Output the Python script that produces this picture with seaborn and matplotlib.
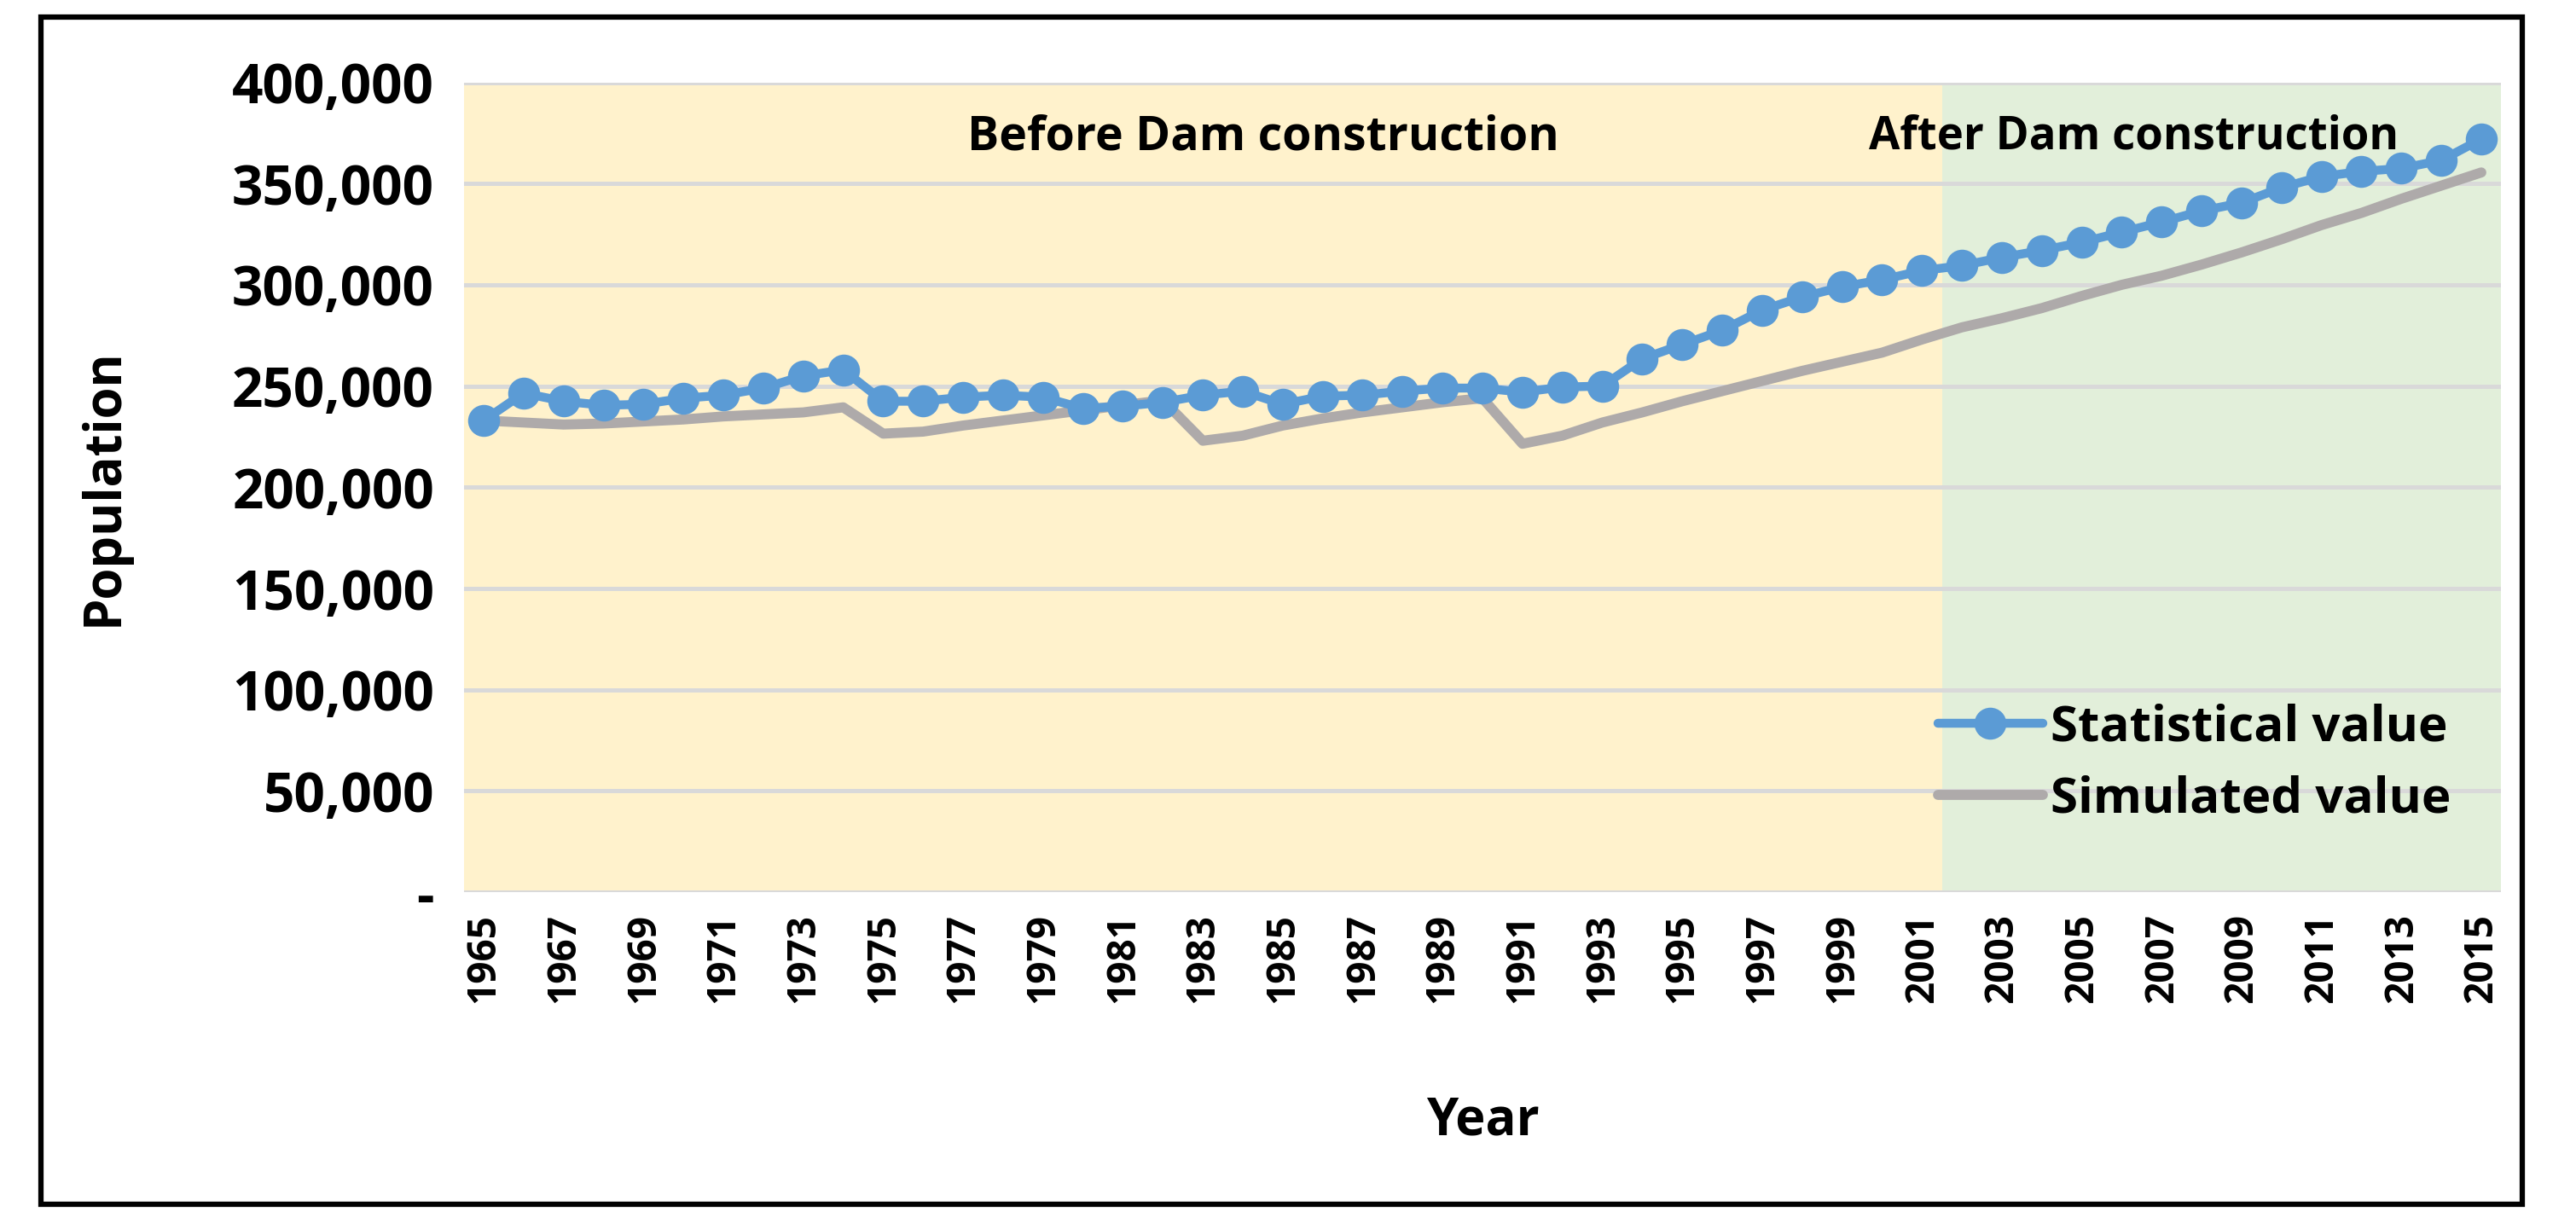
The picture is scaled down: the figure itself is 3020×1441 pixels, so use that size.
import matplotlib
matplotlib.use("Agg")
import matplotlib.pyplot as plt
from matplotlib.patches import Rectangle
from matplotlib.lines import Line2D
from matplotlib.ticker import FuncFormatter
import seaborn as sns
import pandas as pd

# data
years = list(range(1965, 2016))
statistical = [233000, 246500, 242500, 240500, 241000, 244000, 245500, 249000, 255000, 258000,
               242500, 242500, 244500, 245500, 244500, 239000, 240000, 242000, 245500, 247500,
               241000, 245000, 245500, 247500, 249000, 249000, 247000, 249500, 250000, 263500,
               270500, 277500, 287500, 294000, 299000, 302500, 307000, 309500, 313500, 317000,
               321000, 326000, 331000, 336500, 340500, 348000, 353500, 356000, 357500, 361500,
               372000]
simulated = [233000, 232000, 231000, 231500, 232500, 233500, 235000, 236000, 237000, 239500,
             226500, 227500, 230500, 233000, 235500, 238000, 240500, 243000, 223000, 225500,
             230500, 234000, 237000, 239500, 242000, 244000, 221500, 225500, 232000, 237000,
             242500, 247500, 252500, 257500, 262000, 266500, 273000, 279000, 283500, 288500,
             294500, 300000, 304500, 310000, 316000, 322500, 329500, 335500, 342500, 349000,
             355500]
y_ticks = [0, 50000, 100000, 150000, 200000, 250000, 300000, 350000, 400000]
x_ticks = list(range(1965, 2016, 2))
dam_year = 2001.5

df = pd.DataFrame({"Year": years, "Statistical value": statistical, "Simulated value": simulated})

sns.set_style("white")
plt.rcParams['font.family'] = ['Open Sans', 'DejaVu Sans']
plt.rcParams['font.weight'] = 'bold'
plt.rcParams['text.color'] = 'black'
plt.rcParams['axes.labelcolor'] = 'black'
plt.rcParams['xtick.color'] = 'black'
plt.rcParams['ytick.color'] = 'black'

blue = "#5B9BD5"
gray = "#AEAAAA"

fig = plt.figure(figsize=(30.2, 14.41), dpi=100)
ax = fig.add_axes([0.180, 0.274, 0.791, 0.659])

# fondos antes / despues de la presa
ax.axvspan(1964.5, dam_year, color="#FFF2CC", zorder=0, lw=0)
ax.axvspan(dam_year, 2015.5, color="#E2EFDA", zorder=0, lw=0)

for v in y_ticks:
    ax.axhline(v, color="#D9D9D9", lw=3.6, zorder=1)

sns.lineplot(data=df, x="Year", y="Simulated value", color=gray, lw=8.5, ax=ax, zorder=3)
sns.lineplot(data=df, x="Year", y="Statistical value", color=blue, lw=7.5, marker="o",
             markersize=27, markeredgewidth=0, ax=ax, zorder=4)

ax.set_xlim(1964.5, 2015.5)
ax.set_ylim(0, 400000)
ax.set_yticks(y_ticks)
ax.yaxis.set_major_formatter(FuncFormatter(lambda v, p: "-" if v == 0 else f"{int(v):,}"))
ax.set_xticks(x_ticks)
ax.set_xticklabels([str(y) for y in x_ticks], rotation=90)
ax.tick_params(axis="y", labelsize=46, length=0, pad=25)
ax.tick_params(axis="x", labelsize=33, length=0, pad=18)
for s in ax.spines.values():
    s.set_visible(False)

ax.set_xlabel("Year", fontsize=43, fontweight="bold", labelpad=78)
ax.set_ylabel("Population", fontsize=43, fontweight="bold", labelpad=86)

ax.text(1984.5, 373000, "Before Dam construction", ha="center", va="center", fontsize=40, fontweight="bold")
ax.text(2006.3, 373000, "After Dam construction", ha="center", va="center", fontsize=38, fontweight="bold")

handles = [Line2D([], [], color=blue, lw=7.5, marker="o", markersize=27, markeredgewidth=0),
           Line2D([], [], color=gray, lw=8.5)]
ax.legend(handles, ["Statistical value", "Simulated value"], loc="center left",
          bbox_to_anchor=(0.7236, 0.159), frameon=False, fontsize=42, handlelength=2.1,
          handletextpad=0.16, labelspacing=0.45, borderpad=0, borderaxespad=0)

fig.patches.append(Rectangle((0.016, 0.02), 0.963, 0.966, transform=fig.transFigure,
                             fill=False, edgecolor="black", lw=4.5))

fig.savefig("out.png", dpi=100)
